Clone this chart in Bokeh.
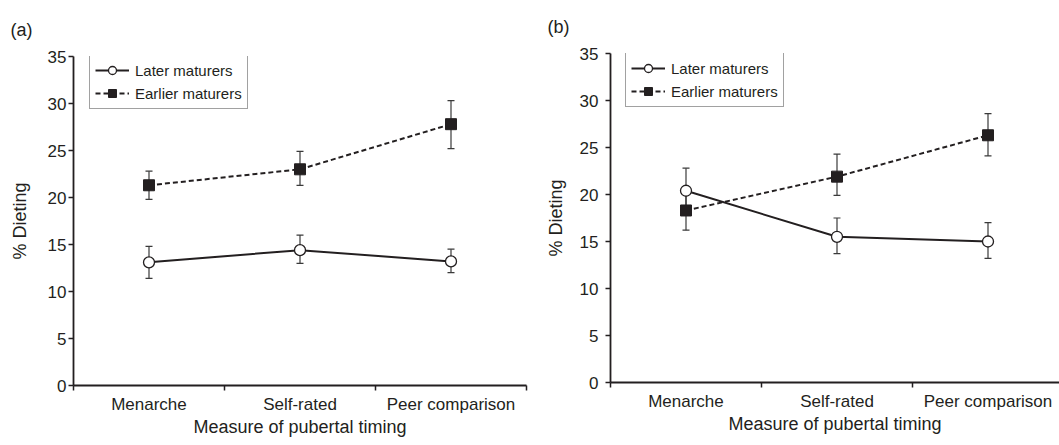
from bokeh.plotting import figure
from bokeh.models import (Range1d, FixedTicker, ColumnDataSource, Whisker, TeeHead,
                          Legend, LegendItem)
from bokeh.layouts import row
from bokeh.embed import file_html
from bokeh.resources import INLINE

categories = ["Menarche", "Self-rated", "Peer comparison"]
y_ticks = [0, 5, 10, 15, 20, 25, 30, 35]

a_later = [13.1, 14.4, 13.2]
a_later_lo = [11.4, 13.0, 12.0]
a_later_hi = [14.8, 16.0, 14.5]
a_earlier = [21.3, 23.0, 27.8]
a_earlier_lo = [19.8, 21.3, 25.2]
a_earlier_hi = [22.8, 24.9, 30.3]

b_later = [20.4, 15.5, 15.0]
b_later_lo = [18.0, 13.7, 13.2]
b_later_hi = [22.8, 17.5, 17.0]
b_earlier = [18.3, 21.9, 26.3]
b_earlier_lo = [16.2, 19.9, 24.1]
b_earlier_hi = [20.4, 24.3, 28.6]

FONT = "Liberation Sans"
INK = "#231f20"
H = 445
FRAME_H = 329
TOP = 56


def panel(tag, later, later_lo, later_hi, earlier, earlier_lo, earlier_hi,
          width, border_left, border_right, x_end,
          legend_dx, legend_dtop, tag_offset, ytick_standoff, ylab_standoff):
    xs = [i + 0.5 for i in range(len(categories))]
    border_bottom = H - TOP - FRAME_H
    p = figure(width=width, height=H, output_backend="svg", toolbar_location=None,
               x_range=Range1d(0, x_end), y_range=Range1d(0, 35),
               min_border_left=border_left, min_border_right=border_right,
               min_border_top=TOP, min_border_bottom=border_bottom,
               title=tag)
    p.outline_line_color = None
    p.xgrid.visible = False
    p.ygrid.visible = False

    p.title.align = "left"
    p.title.offset = tag_offset
    p.title.standoff = 33
    p.title.text_font = FONT
    p.title.text_font_size = "18px"
    p.title.text_font_style = "normal"
    p.title.text_color = INK

    # axes
    p.xaxis.ticker = FixedTicker(ticks=xs, minor_ticks=[0, 1, 2, 3])
    p.xaxis.major_label_overrides = {x: c for x, c in zip(xs, categories)}
    p.xaxis.major_tick_out = 0
    p.xaxis.major_tick_in = 0
    p.xaxis.minor_tick_out = 5
    p.xaxis.minor_tick_in = 0
    p.xaxis.minor_tick_line_color = INK
    p.xaxis.minor_tick_line_width = 1.5
    p.xaxis.axis_label = "Measure of pubertal timing"
    p.xaxis.major_label_standoff = 4
    p.xaxis.axis_label_standoff = 0

    p.yaxis.ticker = FixedTicker(ticks=y_ticks, minor_ticks=[])
    p.yaxis.major_tick_out = 5
    p.yaxis.major_tick_in = 0
    p.yaxis.major_tick_line_color = INK
    p.yaxis.major_tick_line_width = 1.5
    p.yaxis.axis_label = "% Dieting"
    p.yaxis.major_label_standoff = ytick_standoff
    p.yaxis.axis_label_standoff = ylab_standoff

    for ax in (p.xaxis[0], p.yaxis[0]):
        ax.axis_line_color = INK
        ax.axis_line_width = 1.8
        ax.major_label_text_font = FONT
        ax.major_label_text_font_size = "17px"
        ax.major_label_text_color = INK
        ax.axis_label_text_font = FONT
        ax.axis_label_text_font_size = "18px"
        ax.axis_label_text_font_style = "normal"
        ax.axis_label_text_color = INK

    src_l = ColumnDataSource(dict(x=xs, y=later, lo=later_lo, hi=later_hi))
    src_e = ColumnDataSource(dict(x=xs, y=earlier, lo=earlier_lo, hi=earlier_hi))

    for src in (src_l, src_e):
        w = Whisker(source=src, base="x", upper="hi", lower="lo", dimension="height",
                    line_color="#3a3a3a", line_width=1.2, level="underlay",
                    upper_head=TeeHead(size=7, line_color="#3a3a3a", line_width=1.2),
                    lower_head=TeeHead(size=7, line_color="#3a3a3a", line_width=1.2))
        p.add_layout(w)

    ln_l = p.line("x", "y", source=src_l, line_color=INK, line_width=2)
    ln_e = p.line("x", "y", source=src_e, line_color=INK, line_width=2, line_dash="5 3")
    mk_l = p.scatter("x", "y", source=src_l, marker="circle", size=11,
                     fill_color="white", line_color=INK, line_width=1.3)
    mk_e = p.scatter("x", "y", source=src_e, marker="square", size=11,
                     fill_color=INK, line_color=INK, line_width=1)

    legend_h = 5 + 20 + 3 + 20 + 5
    legend = Legend(items=[LegendItem(label="Later maturers", renderers=[ln_l, mk_l]),
                           LegendItem(label="Earlier maturers", renderers=[ln_e, mk_e])],
                    location=(legend_dx, FRAME_H - legend_dtop - legend_h),
                    label_text_font=FONT, label_text_font_size="15px",
                    label_text_color=INK, glyph_width=34, glyph_height=20,
                    label_height=20, label_standoff=6, spacing=3, padding=5,
                    margin=0, border_line_color="#444444", border_line_width=1.2,
                    background_fill_color="white", background_fill_alpha=1)
    p.add_layout(legend, "center")
    return p


pa = panel("(a)", a_later, a_later_lo, a_later_hi, a_earlier, a_earlier_lo, a_earlier_hi,
           width=530, border_left=73, border_right=4,
           x_end=3.0, legend_dx=16, legend_dtop=0, tag_offset=-63,
           ytick_standoff=2, ylab_standoff=15)
pb = panel("(b)", b_later, b_later_lo, b_later_hi, b_earlier, b_earlier_lo, b_earlier_hi,
           width=529, border_left=80, border_right=0,
           x_end=449 / 151, legend_dx=15, legend_dtop=1, tag_offset=-63,
           ytick_standoff=7, ylab_standoff=11)
pb.margin = (-3, 0, 0, 0)

layout = row(pa, pb, spacing=0)
open("out.html", "w").write(file_html(layout, INLINE))
